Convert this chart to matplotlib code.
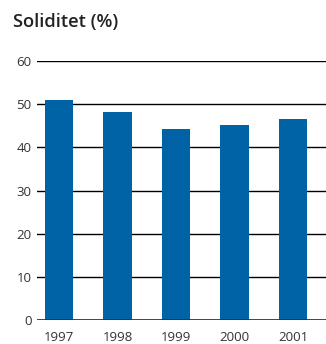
import numpy as np
import matplotlib.pyplot as plt

years = ['1997', '1998', '1999', '2000', '2001']
soliditet = [51.0, 48.2, 44.2, 45.2, 46.6]
y_ticks = [0, 10, 20, 30, 40, 50, 60]

plt.rcParams['font.family'] = ['Open Sans', 'DejaVu Sans']

W, H = 326, 344
fig = plt.figure(figsize=(W / 100, H / 100), dpi=100)
ax = fig.add_axes([37 / W, 1 - 320 / H, (326 - 37) / W, (320 - 61) / H])

x = np.arange(len(years))
ax.bar(x, soliditet, width=0.48, color='#0063a5', zorder=3)

# gridlines across the whole plot area
for v in y_ticks[1:]:
    ax.axhline(v, color='black', linewidth=1.0, zorder=1)
ax.axhline(0, color='#333333', linewidth=2.0, zorder=4)

ax.set_xlim(-0.376, 4.564)
ax.set_ylim(0, 60)
ax.set_yticks(y_ticks)
ax.set_xticks(x)
ax.set_xticklabels(years)
ax.tick_params(axis='both', length=0, labelsize=9.5, labelcolor='#333333')
ax.tick_params(axis='y', pad=4)
ax.tick_params(axis='x', pad=8)
for s in ax.spines.values():
    s.set_visible(False)

fig.text(13 / W, 1 - 22 / H, 'Soliditet (%)', fontsize=13.2, fontweight='semibold',
         color='#222222', va='center', ha='left')

fig.savefig('out.png', dpi=100)
